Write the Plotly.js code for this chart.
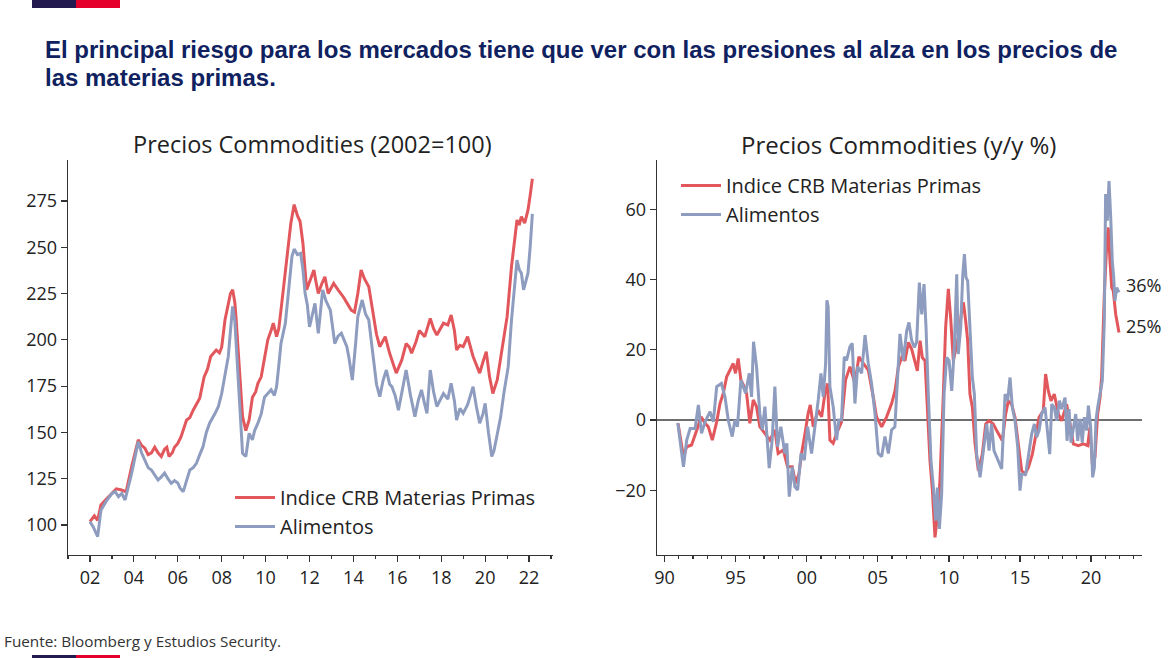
<!DOCTYPE html>
<html>
<head>
<meta charset="utf-8">
<script src="https://cdn.plot.ly/plotly-3.0.1.min.js"></script>
<style>html,body{margin:0;padding:0;background:#fff}#chart{width:1176px;height:658px}</style>
</head>
<body>
<div id="chart"></div>
<script>
// ---- Left chart: Precios Commodities (2002=100) ----
const crbX = [2002.0,2002.2,2002.35,2002.5,2002.75,2003.0,2003.2,2003.4,2003.65,2003.9,2004.05,2004.2,2004.35,2004.5,2004.65,2004.8,2004.95,2005.1,2005.25,2005.4,2005.5,2005.6,2005.75,2005.85,2006.0,2006.15,2006.4,2006.55,2006.7,2006.85,2007.0,2007.2,2007.35,2007.5,2007.75,2007.9,2008.0,2008.15,2008.3,2008.4,2008.5,2008.6,2008.65,2008.8,2008.95,2009.1,2009.25,2009.4,2009.55,2009.65,2009.8,2009.95,2010.1,2010.25,2010.35,2010.5,2010.6,2010.7,2010.85,2010.95,2011.05,2011.15,2011.3,2011.45,2011.57,2011.7,2011.87,2012.05,2012.2,2012.3,2012.4,2012.55,2012.7,2012.85,2013.1,2013.3,2013.55,2013.75,2013.9,2014.05,2014.2,2014.35,2014.5,2014.7,2014.9,2015.05,2015.2,2015.45,2015.65,2015.8,2015.95,2016.2,2016.4,2016.55,2016.65,2016.85,2017.0,2017.25,2017.5,2017.65,2017.8,2018.1,2018.3,2018.45,2018.6,2018.7,2018.85,2019.0,2019.2,2019.45,2019.6,2019.75,2019.9,2020.05,2020.2,2020.35,2020.55,2020.75,2020.9,2021.0,2021.2,2021.35,2021.45,2021.55,2021.65,2021.8,2021.95,2022.05,2022.15];
const crbY = [101.8,105,102.5,110.8,114,117,119.5,119,118,131.5,138,146,143,141.5,138,139,142,139,137,141,142,137,139,142,144,147.7,156.7,158,162,165,168.5,180,184,191,194.5,193,196,210.7,220,225,227,220,212.5,187,158.5,151,156.7,169,172,176.5,180,190,200,205,209,201.7,206,216,232,241,252,263,273,267,264,252,227,233,237.7,231,225,230,234,225,230.5,227,223,219,216,215,225,237.7,233,228.7,214,203,196.3,201.7,192.7,187,182,189,198,196,192.7,199,205,201.7,211.6,206,202.6,209,208,213.4,205,194.5,197,196.3,201.7,191,186,182,188,193.6,180,171,178.3,192.7,203,212.5,239.5,255,264.7,262,266.5,263,270,278,287];

const aliX = [2002.0,2002.15,2002.35,2002.5,2002.75,2003.0,2003.15,2003.3,2003.45,2003.6,2003.9,2004.05,2004.2,2004.35,2004.5,2004.65,2004.8,2004.95,2005.1,2005.25,2005.4,2005.55,2005.7,2005.85,2006.0,2006.1,2006.25,2006.4,2006.55,2006.7,2006.85,2007.0,2007.15,2007.3,2007.45,2007.7,2007.85,2008.0,2008.15,2008.3,2008.4,2008.5,2008.6,2008.65,2008.8,2008.95,2009.1,2009.25,2009.4,2009.5,2009.65,2009.8,2009.95,2010.1,2010.25,2010.4,2010.5,2010.6,2010.7,2010.9,2011.0,2011.1,2011.2,2011.3,2011.45,2011.6,2011.7,2011.8,2011.9,2012.0,2012.1,2012.25,2012.4,2012.5,2012.6,2012.75,2012.95,2013.15,2013.3,2013.45,2013.6,2013.7,2013.8,2013.95,2014.1,2014.2,2014.4,2014.55,2014.7,2014.9,2015.05,2015.2,2015.35,2015.5,2015.65,2015.75,2015.9,2016.05,2016.25,2016.4,2016.6,2016.8,2016.95,2017.1,2017.25,2017.35,2017.5,2017.65,2017.8,2017.95,2018.1,2018.3,2018.45,2018.6,2018.7,2018.85,2019.0,2019.2,2019.45,2019.6,2019.75,2019.9,2020.0,2020.15,2020.3,2020.4,2020.55,2020.7,2020.85,2021.05,2021.2,2021.35,2021.45,2021.55,2021.65,2021.75,2021.85,2021.95,2022.05,2022.15];
const aliY = [101.8,99,93.7,108,113,117,118,115.3,117,113.5,128,137,145,139,135,131,129.7,127,124.3,126,128,125,122.5,124,122.7,120,118,124,129.7,131,133.3,138,142.3,150,155,160.3,164,171,180,191,205,218,210,200,169,138.7,137,149.5,146,151,155,160,169,171,173,170,174.7,186,198,209,222,236,245,249,246,246.7,238,225,219,207,212,219.7,203.5,215,227,221,216,198,202,203.5,199,196.3,190,178.3,198,212.5,221.5,214,210.7,189,176,169.3,178,183.7,176,174.7,170,162,175,183.7,170,158.5,167,173,165,160.3,183.7,172,164,168,171,168,176.5,167,156.7,163,160.3,165,174.7,164,155,160,165.7,150,137,140,149.5,158,171,185.5,210.7,232,243,238,236,227,231,236,250,268];

// ---- Right chart: Precios Commodities (y/y %) ----
const yoyCrbX = [1990.95,1991.33,1991.56,1991.9,1992.27,1992.57,1992.85,1993.08,1993.36,1993.67,1993.9,1994.13,1994.37,1994.6,1994.83,1994.99,1995.18,1995.37,1995.6,1995.77,1996.0,1996.24,1996.47,1996.7,1997.06,1997.41,1997.76,1997.99,1998.35,1998.65,1998.98,1999.22,1999.46,1999.64,1999.88,2000.1,2000.25,2000.46,2000.81,2001.05,2001.28,2001.47,2001.63,2001.86,2002.1,2002.45,2002.73,2003.04,2003.39,2003.67,2003.98,2004.33,2004.68,2004.91,2005.27,2005.62,2005.97,2006.21,2006.44,2006.68,2006.91,2007.15,2007.38,2007.62,2007.78,2007.97,2008.13,2008.32,2008.48,2008.67,2008.84,2009.02,2009.21,2009.37,2009.61,2009.77,2009.96,2010.12,2010.31,2010.5,2010.71,2010.9,2011.02,2011.18,2011.32,2011.48,2011.65,2011.84,2012.07,2012.35,2012.59,2012.82,2013.12,2013.36,2013.59,2013.76,2013.99,2014.18,2014.41,2014.65,2014.88,2015.12,2015.35,2015.59,2015.87,2016.1,2016.34,2016.64,2016.8,2016.99,2017.18,2017.41,2017.7,2017.93,2018.28,2018.52,2018.75,2019.1,2019.45,2019.76,2019.92,2020.09,2020.27,2020.46,2020.63,2020.74,2020.93,2021.1,2021.21,2021.33,2021.45,2021.56,2021.73,2021.96];
const yoyCrbY = [-1,-10.4,-7.6,-7.1,-2.8,0.9,-0.9,-1.9,-5.7,-0.5,4.7,7.6,12.3,14.2,16.1,13.3,17.5,11.4,9.5,7.6,-0.9,5.7,3.8,-1.9,-3.8,-5.7,-2.8,-9.5,-8.5,-13.3,-13.3,-18,-15.2,-9.5,-3.8,1.9,4.3,-1.9,2.8,0.9,7.6,10.4,-5.7,-6.6,-3.8,-0.5,11.4,15.2,10.4,18,16.1,14.2,6.6,0.9,-1.9,0.9,4.7,8.3,15,17.8,16.9,22.1,20.2,16.9,14,22.6,17.8,16.9,2.7,-11.6,-20.1,-33.4,-26.7,-17.3,7.4,26.4,37.3,29.2,16.9,20.7,24.5,31.1,33.5,28.2,22.6,7.4,3.6,-6.8,-14.4,-9.7,-1.1,-0.2,-1.1,-3,-4.9,-5.9,1.7,5.5,4.5,0.8,-6.8,-14.4,-15.4,-13.5,-9.7,-4.9,0.8,2.7,13.1,8.3,5.5,7.4,1.7,-0.2,4.5,-1.1,-6.8,-7.3,-6.8,-7.3,-2.1,-12.5,-10.6,1.7,6.4,12.1,35.8,50,54.8,45.3,37.7,36.8,30.1,24.9];

const yoyAliX = [1990.93,1991.33,1991.56,1991.8,1992.15,1992.38,1992.6,1992.85,1993.2,1993.43,1993.67,1994.0,1994.25,1994.48,1994.76,1994.95,1995.13,1995.37,1995.7,1995.96,1996.12,1996.26,1996.47,1996.7,1996.87,1997.06,1997.36,1997.57,1997.76,1997.95,1998.18,1998.46,1998.6,1998.77,1998.98,1999.17,1999.36,1999.6,1999.83,2000.06,2000.34,2000.58,2000.81,2001.0,2001.16,2001.33,2001.42,2001.51,2001.63,2001.86,2002.1,2002.26,2002.45,2002.64,2002.8,2003.04,2003.2,2003.39,2003.58,2003.86,2004.1,2004.33,2004.56,2004.8,2005.03,2005.27,2005.5,2005.74,2005.97,2006.2,2006.38,2006.56,2006.8,2007.03,2007.19,2007.38,2007.57,2007.73,2007.92,2008.09,2008.25,2008.39,2008.55,2008.74,2008.91,2009.07,2009.19,2009.33,2009.49,2009.66,2009.84,2010.01,2010.2,2010.38,2010.55,2010.66,2010.83,2010.97,2011.09,2011.2,2011.32,2011.48,2011.65,2011.79,2011.95,2012.19,2012.42,2012.66,2012.82,2013.0,2013.17,2013.36,2013.52,2013.71,2013.95,2014.13,2014.3,2014.46,2014.65,2014.84,2015.0,2015.12,2015.4,2015.59,2015.82,2016.01,2016.17,2016.34,2016.52,2016.76,2016.95,2017.09,2017.23,2017.41,2017.58,2017.77,2017.93,2018.17,2018.31,2018.45,2018.59,2018.75,2018.92,2019.06,2019.22,2019.38,2019.52,2019.69,2019.81,2019.97,2020.11,2020.23,2020.34,2020.46,2020.63,2020.79,2020.93,2021.02,2021.14,2021.26,2021.38,2021.49,2021.59,2021.68,2021.8,2021.96];
const yoyAliY = [-0.8,-13.3,-5.7,-2.4,-2.4,4.3,-3.8,-0.5,2.4,-0.5,9.5,10.4,6.6,0,-4.7,0,-1.9,11.4,7.6,13.3,6.6,22.3,15.2,1.9,-2.8,3.8,-13.7,-5.7,9.5,-7.6,-1.9,-9.5,-6.6,-21.8,-13.3,-19,-19.9,-9.5,-11.4,-1.9,-9.5,-1.9,5.7,13.3,6.6,16.1,34.1,32.2,9.5,3.8,-5.7,0,0,18,17,20.9,21.8,4.7,15.2,13.3,24.2,16.1,10.4,1.9,-9.5,-10.4,-4.7,-9.5,-2.8,-1.9,10.4,24.5,16.9,25.4,27.8,22.6,20.7,22.1,39.1,30.1,38.7,26.4,7.4,-11.6,-19.2,-28.6,-19.2,-31,-21,7.4,17.8,16.9,8.3,20.7,41.5,18.8,26.4,41,47.2,40.6,39.6,24.5,12.1,7.4,-9.7,-16.3,-8.7,-1.1,-8.7,-1.1,-8.7,-10.6,-12.5,-13.9,7.4,5.5,12.1,3.6,-0.2,-7.8,-20.1,-15.4,-15.4,-9.7,-4,-1.1,-4.9,-3,1.7,3.6,-3,-9.7,4.5,3.6,-0.2,5.5,3.1,6.4,-5.9,3.1,-6.4,-2.1,1.7,-5.9,0.3,-6.4,0.8,-3,4.1,-2.1,-16.3,-13.5,-0.2,3.6,7.4,11.2,28.2,64.3,56.7,68,57.6,45.3,40.6,33.9,37.7,36.3];

// tick labels
const levelTickVals = [2002,2004,2006,2008,2010,2012,2014,2016,2018,2020,2022];
const levelTickText = ['02','04','06','08','10','12','14','16','18','20','22'];
const yoyTickVals = [1990,1995,2000,2005,2010,2015,2020];
const yoyTickText = ['90','95','00','05','10','15','20'];
const lastLabels = ['36%','25%'];

const RED = '#e2575c';
const BLUE = '#8e9cbf';
const W = 1176, H = 658;
const px = v => v / W;
const py = v => 1 - v / H;
const FONT = 'Open Sans, Noto Sans, sans-serif';
const HEADFONT = 'Liberation Sans, Arial, sans-serif';
const TXT = '#222222';

const traces = [
  {x: crbX, y: crbY, type: 'scatter', mode: 'lines', name: 'Indice CRB Materias Primas',
   line: {color: RED, width: 3}, xaxis: 'x', yaxis: 'y', legend: 'legend', legendgroup: 'a'},
  {x: aliX, y: aliY, type: 'scatter', mode: 'lines', name: 'Alimentos',
   line: {color: BLUE, width: 3}, xaxis: 'x', yaxis: 'y', legend: 'legend', legendgroup: 'b'},
  {x: yoyCrbX, y: yoyCrbY, type: 'scatter', mode: 'lines', name: 'Indice CRB Materias Primas',
   line: {color: RED, width: 3}, xaxis: 'x2', yaxis: 'y2', legend: 'legend2', legendgroup: 'c'},
  {x: yoyAliX, y: yoyAliY, type: 'scatter', mode: 'lines', name: 'Alimentos',
   line: {color: BLUE, width: 3}, xaxis: 'x2', yaxis: 'y2', legend: 'legend2', legendgroup: 'd'}
];

const axisCommon = {
  showline: true, linecolor: '#333', linewidth: 1.3, ticks: 'outside', ticklen: 6,
  tickcolor: '#333', tickwidth: 1.2, showgrid: false, zeroline: false,
  tickfont: {family: FONT, size: 18, color: TXT}, fixedrange: true
};

const legendCommon = {
  xanchor: 'left', yanchor: 'top', bgcolor: 'rgba(0,0,0,0)',
  font: {family: FONT, size: 20, color: TXT},
  traceorder: 'grouped', tracegroupgap: 0, itemwidth: 40
};

const layout = {
  width: W, height: H,
  margin: {l: 0, r: 0, t: 0, b: 0},
  paper_bgcolor: '#ffffff', plot_bgcolor: '#ffffff',
  font: {family: FONT, color: TXT},
  showlegend: true,
  xaxis: Object.assign({}, axisCommon, {
    domain: [px(68), px(553)], range: [2001.0, 2023.09], anchor: 'y',
    tickmode: 'array', tickvals: levelTickVals, ticktext: levelTickText,
    minor: {tickmode: 'linear', tick0: 2002, dtick: 1, ticklen: 3, tickcolor: '#333', ticks: 'outside'}
  }),
  yaxis: Object.assign({}, axisCommon, {
    domain: [py(555), py(160)], range: [83.8, 297.1], anchor: 'x',
    tickmode: 'linear', tick0: 100, dtick: 25
  }),
  xaxis2: Object.assign({}, axisCommon, {
    domain: [px(657), px(1142)], range: [1989.47, 2023.58], anchor: 'y2',
    tickmode: 'array', tickvals: yoyTickVals, ticktext: yoyTickText,
    minor: {tickmode: 'linear', tick0: 1990, dtick: 1, ticklen: 3, tickcolor: '#333', ticks: 'outside'}
  }),
  yaxis2: Object.assign({}, axisCommon, {
    domain: [py(555), py(160)], range: [-38.4, 74], anchor: 'x2',
    tickmode: 'linear', tick0: -20, dtick: 20,
    zeroline: true, zerolinecolor: '#6e6e6e', zerolinewidth: 1.6
  }),
  legend: Object.assign({}, legendCommon, {x: px(230), y: py(478)}),
  legend2: Object.assign({}, legendCommon, {x: px(676), y: py(166)}),
  shapes: [
    {type: 'rect', xref: 'paper', yref: 'paper', x0: px(32), x1: px(76), y0: py(8), y1: py(0), fillcolor: '#231b50', line: {width: 0}},
    {type: 'rect', xref: 'paper', yref: 'paper', x0: px(76), x1: px(120), y0: py(8), y1: py(0), fillcolor: '#e4002b', line: {width: 0}},
    {type: 'rect', xref: 'paper', yref: 'paper', x0: px(32), x1: px(76), y0: py(658), y1: py(655), fillcolor: '#231b50', line: {width: 0}},
    {type: 'rect', xref: 'paper', yref: 'paper', x0: px(76), x1: px(120), y0: py(658), y1: py(655), fillcolor: '#e4002b', line: {width: 0}}
  ],
  annotations: [
    {xref: 'paper', yref: 'paper', x: px(43), y: py(49), xanchor: 'left', yanchor: 'middle', align: 'left', showarrow: false,
     text: 'El principal riesgo para los mercados tiene que ver con las presiones al alza en los precios de',
     font: {family: HEADFONT, size: 24, color: '#10215f', weight: 700}},
    {xref: 'paper', yref: 'paper', x: px(43), y: py(77), xanchor: 'left', yanchor: 'middle', align: 'left', showarrow: false,
     text: 'las materias primas.',
     font: {family: HEADFONT, size: 24, color: '#10215f', weight: 700}},
    {xref: 'paper', yref: 'paper', x: px(312), y: py(144), xanchor: 'center', yanchor: 'middle', showarrow: false,
     text: 'Precios Commodities (2002=100)', font: {family: FONT, size: 23.5, color: TXT}},
    {xref: 'paper', yref: 'paper', x: px(898), y: py(144.5), xanchor: 'center', yanchor: 'middle', showarrow: false,
     text: 'Precios Commodities (y/y %)', font: {family: FONT, size: 24, color: TXT}},
    {xref: 'paper', yref: 'paper', x: px(2), y: py(641), xanchor: 'left', yanchor: 'middle', showarrow: false,
     text: 'Fuente: Bloomberg y Estudios Security.', font: {family: FONT, size: 15.3, color: '#333'}},
    {xref: 'paper', yref: 'paper', x: px(1124), y: py(285), xanchor: 'left', yanchor: 'middle', showarrow: false,
     text: lastLabels[0], font: {family: FONT, size: 18, color: TXT}},
    {xref: 'paper', yref: 'paper', x: px(1124), y: py(326), xanchor: 'left', yanchor: 'middle', showarrow: false,
     text: lastLabels[1], font: {family: FONT, size: 18, color: TXT}}
  ]
};

Plotly.newPlot('chart', traces, layout, {displayModeBar: false, staticPlot: true});
</script>
</body>
</html>
